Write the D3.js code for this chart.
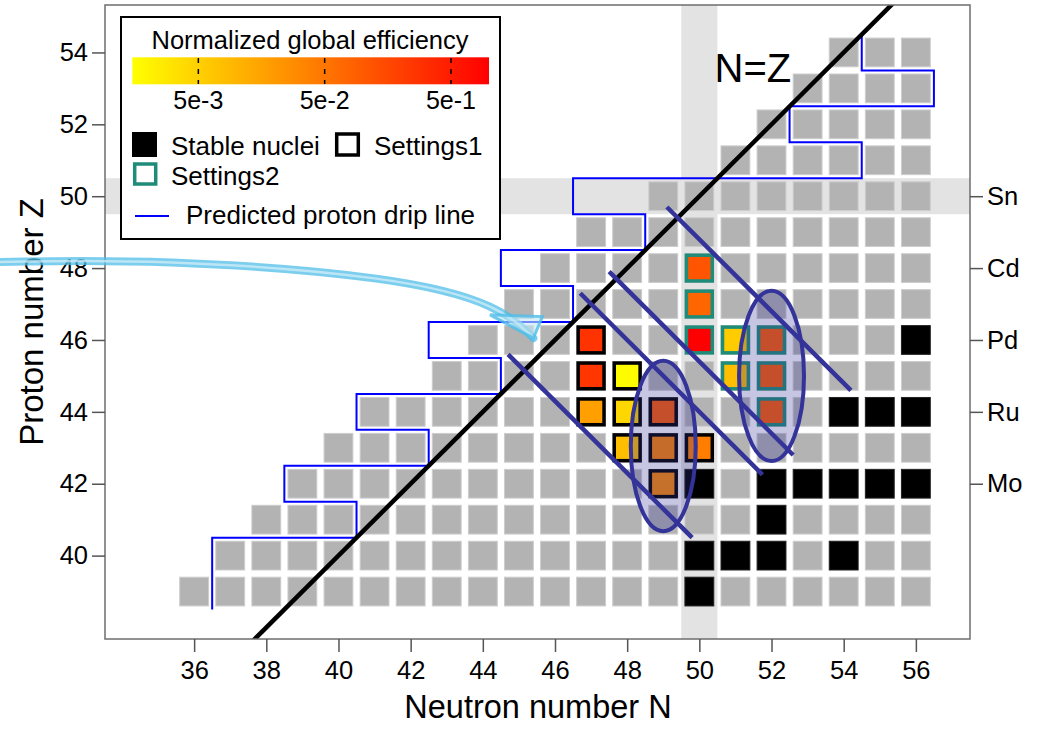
<!DOCTYPE html>
<html>
<head>
<meta charset="utf-8">
<script src="https://d3js.org/d3.v7.min.js"></script>
<style>
  body { margin: 0; background: #fff; }
  text { font-family: "Liberation Sans", Arial, sans-serif; }
</style>
</head>
<body>
<script>
// nuclide rows: proton number Z and the first neutron number drawn (all rows end at N=56)
var rowZ      = [39, 40, 41, 42, 43, 44, 45, 46, 47, 48, 49, 50, 51, 52, 53, 54];
var rowFirstN = [36, 37, 38, 39, 40, 41, 43, 44, 45, 46, 47, 49, 51, 52, 53, 54];
var lastN = 56;

// stable nuclei [N, Z]
var stableNuclei = [[50,39],[50,40],[51,40],[52,40],[54,40],[52,41],
                    [50,42],[52,42],[53,42],[54,42],[55,42],[56,42],
                    [54,44],[55,44],[56,44],[56,46]];

// settings 1 (black frame) and settings 2 (teal frame): N, Z, normalized global efficiency
var s1N   = [47, 47, 48, 47, 48, 49, 48, 49, 50, 49];
var s1Z   = [46, 45, 45, 44, 44, 44, 43, 43, 43, 42];
var s1Eff = [0.27, 0.25, 0.0016, 0.017, 0.0042, 0.1, 0.0076, 0.035, 0.04, 0.03];

var s2N   = [50, 50, 50, 51, 52, 51, 52, 52];
var s2Z   = [48, 47, 46, 46, 46, 45, 45, 44];
var s2Eff = [0.115, 0.074, 1.0, 0.0055, 0.1, 0.0076, 0.1, 0.1];

// predicted proton drip line: boundary N for each Z
var dripZ = [39, 40, 41, 42, 43, 44, 45, 46, 47, 48, 49, 50, 51, 52, 53, 54];
var dripN = [36.5, 36.5, 40.5, 38.5, 42.5, 40.5, 44.5, 42.5, 46.5, 44.5, 48.5, 46.5, 54.5, 52.5, 56.5, 54.5];

// constant A = N + Z cut lines, with their N extent
var cutA    = [90.3, 94.0, 95.4, 98.8];
var cutFrom = [44.7, 46.7, 47.5, 49.1];
var cutTo   = [49.8, 51.75, 52.6, 54.2];

// ellipses around selected isotones
var ellN = [49, 52];
var ellZ = [43.05, 45.0];
var ellRN = 0.9, ellRZ = 2.37;

var xTicks = [36, 38, 40, 42, 44, 46, 48, 50, 52, 54, 56];
var yTicks = [40, 42, 44, 46, 48, 50, 52, 54];
var elemZ = [42, 44, 46, 48, 50];
var elemName = ["Mo", "Ru", "Pd", "Cd", "Sn"];
var cbTicks = [5e-3, 5e-2, 5e-1];
var cbLabels = ["5e-3", "5e-2", "5e-1"];

// annotation arrow (data units)
var arrowPts = [[30.6, 48.17], [35.0, 48.25], [41.7, 47.76], [44.5, 46.95], [45.4, 46.05]];

var width = 1038, height = 735;
var x = d3.scaleLinear().domain([33.53, 57.5]).range([105, 970]);
var y = d3.scaleLinear().domain([37.68, 55.32]).range([639, 5]);

var effColor = d3.scaleSequentialLog(d3.interpolateRgb("#ffff00", "#ff0000")).domain([1.5e-3, 1]);

var svg = d3.select("body").append("svg")
    .attr("width", width)
    .attr("height", height);

svg.append("defs").append("clipPath").attr("id", "plotclip")
  .append("rect").attr("x", 105).attr("y", 5).attr("width", 865).attr("height", 634);

var plot = svg.append("g").attr("clip-path", "url(#plotclip)");

// magic number bands N=50 and Z=50
plot.append("rect")
    .attr("x", x(49.5)).attr("y", 5)
    .attr("width", x(50.5) - x(49.5)).attr("height", 634)
    .attr("fill", "#e3e3e3");
plot.append("rect")
    .attr("x", 105).attr("y", y(50.5))
    .attr("width", 865).attr("height", y(49.5) - y(50.5))
    .attr("fill", "#e3e3e3");

var cw = x(0.8) - x(0), ch = y(0) - y(0.8);

var cells = [];
rowZ.forEach(function(z, i) {
  for (var n = rowFirstN[i]; n <= lastN; n++) cells.push({n: n, z: z});
});
function isStable(d) {
  return stableNuclei.some(function(s) { return s[0] === d.n && s[1] === d.z; });
}

plot.selectAll("rect.cell")
  .data(cells)
  .enter().append("rect")
    .attr("class", "cell")
    .attr("x", function(d) { return x(d.n) - cw / 2; })
    .attr("y", function(d) { return y(d.z) - ch / 2; })
    .attr("width", cw).attr("height", ch)
    .attr("fill", function(d) { return isStable(d) ? "#000" : "#b3b3b3"; })
    .attr("stroke", function(d) { return isStable(d) ? "#222" : "#cdcdcd"; })
    .attr("stroke-width", 1);

function drawSettings(nArr, zArr, effArr, frame) {
  var data = nArr.map(function(n, i) { return {n: n, z: zArr[i], e: effArr[i]}; });
  plot.selectAll(null)
    .data(data)
    .enter().append("rect")
      .attr("x", function(d) { return x(d.n) - cw / 2 + 1.5; })
      .attr("y", function(d) { return y(d.z) - ch / 2 + 1.5; })
      .attr("width", cw - 3).attr("height", ch - 3)
      .attr("fill", function(d) { return effColor(d.e); })
      .attr("stroke", frame)
      .attr("stroke-width", 3.5);
}
drawSettings(s1N, s1Z, s1Eff, "#000");
drawSettings(s2N, s2Z, s2Eff, "#1e8c78");

// drip line
var dripPts = [];
dripZ.forEach(function(z, i) {
  dripPts.push([dripN[i], z - 0.5]);
  dripPts.push([dripN[i], z + 0.5]);
});
plot.append("path")
    .datum(dripPts)
    .attr("d", d3.line().x(function(d) { return x(d[0]); }).y(function(d) { return y(d[1]); }))
    .attr("fill", "none")
    .attr("stroke", "#0000ff")
    .attr("stroke-width", 2);

// N = Z line
plot.append("line")
    .attr("x1", x(36)).attr("y1", y(36))
    .attr("x2", x(57)).attr("y2", y(57))
    .attr("stroke", "#000")
    .attr("stroke-width", 4.5);

// ellipses
plot.selectAll("ellipse")
  .data(ellN)
  .enter().append("ellipse")
    .attr("cx", function(d) { return x(d); })
    .attr("cy", function(d, i) { return y(ellZ[i]); })
    .attr("rx", x(ellRN) - x(0))
    .attr("ry", y(0) - y(ellRZ))
    .attr("fill", "#333399")
    .attr("fill-opacity", 0.28)
    .attr("stroke", "#333399")
    .attr("stroke-width", 4);

// A = const lines
plot.selectAll("line.cut")
  .data(cutA)
  .enter().append("line")
    .attr("class", "cut")
    .attr("x1", function(d, i) { return x(cutFrom[i]); })
    .attr("y1", function(d, i) { return y(d - cutFrom[i]); })
    .attr("x2", function(d, i) { return x(cutTo[i]); })
    .attr("y2", function(d, i) { return y(d - cutTo[i]); })
    .attr("stroke", "#333399")
    .attr("stroke-width", 4.5);

// frame
svg.append("rect")
    .attr("x", 105).attr("y", 5).attr("width", 865).attr("height", 634)
    .attr("fill", "none").attr("stroke", "#6e6e6e").attr("stroke-width", 1.5);

// axes
var xAxis = svg.append("g")
    .attr("transform", "translate(0,639)")
    .call(d3.axisBottom(x).tickValues(xTicks).tickSize(13).tickPadding(9));
var yAxis = svg.append("g")
    .attr("transform", "translate(105,0)")
    .call(d3.axisLeft(y).tickValues(yTicks).tickSize(13).tickPadding(4));
var rAxis = svg.append("g")
    .attr("transform", "translate(970,0)")
    .call(d3.axisRight(y).tickValues(elemZ).tickSize(13).tickPadding(4)
      .tickFormat(function(d) { return elemName[elemZ.indexOf(d)]; }));

[xAxis, yAxis, rAxis].forEach(function(a) {
  a.select(".domain").remove();
  a.selectAll(".tick line").attr("stroke", "#555").attr("stroke-width", 1.5);
  a.selectAll(".tick text").attr("fill", "#000").style("font-size", "25.5px")
    .style("font-family", "'Liberation Sans', Arial, sans-serif");
});

svg.append("text")
    .attr("x", 538).attr("y", 718)
    .attr("text-anchor", "middle")
    .style("font-size", "32.5px")
    .text("Neutron number N");
svg.append("text")
    .attr("transform", "translate(43,322) rotate(-90)")
    .attr("text-anchor", "middle")
    .style("font-size", "33px")
    .text("Proton number Z");

svg.append("text")
    .attr("x", x(50.42)).attr("y", y(53.18))
    .style("font-size", "40px")
    .text("N=Z");

// legend
var lg = svg.append("g");
lg.append("rect")
    .attr("x", 121).attr("y", 17).attr("width", 379).attr("height", 222)
    .attr("fill", "#fff").attr("stroke", "#000").attr("stroke-width", 2);
lg.append("text")
    .attr("x", 310).attr("y", 49)
    .attr("text-anchor", "middle")
    .style("font-size", "25.5px")
    .text("Normalized global efficiency");

var cb = d3.scaleLog().domain([1.5e-3, 1]).range([132.3, 489]);
var grad = svg.select("defs").append("linearGradient")
    .attr("id", "effgrad").attr("x1", "0%").attr("x2", "100%");
d3.range(0, 1.0001, 0.1).forEach(function(t) {
  grad.append("stop").attr("offset", (t * 100) + "%")
      .attr("stop-color", effColor(cb.invert(132.3 + t * (489 - 132.3))));
});
lg.append("rect")
    .attr("x", 132.3).attr("y", 57.3).attr("width", 489 - 132.3).attr("height", 27)
    .attr("fill", "url(#effgrad)");
lg.selectAll("line.cbt")
  .data(cbTicks)
  .enter().append("line")
    .attr("class", "cbt")
    .attr("x1", function(d) { return cb(d); }).attr("x2", function(d) { return cb(d); })
    .attr("y1", 58).attr("y2", 84)
    .attr("stroke", "#000").attr("stroke-width", 1.5)
    .attr("stroke-dasharray", "5,6");
lg.selectAll("text.cbl")
  .data(cbTicks)
  .enter().append("text")
    .attr("class", "cbl")
    .attr("x", function(d) { return cb(d); }).attr("y", 109)
    .attr("text-anchor", "middle")
    .style("font-size", "25px")
    .text(function(d, i) { return cbLabels[i]; });

lg.append("rect").attr("x", 132).attr("y", 132).attr("width", 25).attr("height", 25).attr("fill", "#000");
lg.append("text").attr("x", 171).attr("y", 155).style("font-size", "26px").text("Stable nuclei");
lg.append("rect").attr("x", 336.7).attr("y", 134).attr("width", 21.6).attr("height", 21)
    .attr("fill", "#fff").attr("stroke", "#000").attr("stroke-width", 3.5);
lg.append("text").attr("x", 374).attr("y", 155).style("font-size", "26px").text("Settings1");
lg.append("rect").attr("x", 134.7).attr("y", 164).attr("width", 21).attr("height", 20)
    .attr("fill", "#fff").attr("stroke", "#1e8c78").attr("stroke-width", 3.5);
lg.append("text").attr("x", 171).attr("y", 185).style("font-size", "26px").text("Settings2");
lg.append("line").attr("x1", 135).attr("x2", 169).attr("y1", 216).attr("y2", 216)
    .attr("stroke", "#0000ff").attr("stroke-width", 2);
lg.append("text").attr("x", 186).attr("y", 224).style("font-size", "26px").text("Predicted proton drip line");

// annotation arrow
var arrowLine = d3.line().curve(d3.curveBasis)
    .x(function(d) { return x(d[0]); }).y(function(d) { return y(d[1]); });
svg.append("path").datum(arrowPts)
    .attr("d", arrowLine)
    .attr("fill", "none").attr("stroke", "#4fbde8").attr("stroke-opacity", 0.75)
    .attr("stroke-width", 8).attr("stroke-linecap", "round");
svg.append("path").datum(arrowPts)
    .attr("d", arrowLine)
    .attr("fill", "none").attr("stroke", "#d8f0fa").attr("stroke-opacity", 0.7)
    .attr("stroke-width", 2.5);
var tip = arrowPts[arrowPts.length - 1];
svg.append("path")
    .attr("d", "M" + x(tip[0] - 1.2) + "," + y(tip[1] + 0.65) +
               "L" + x(tip[0] + 0.25) + "," + y(tip[1] + 0.6) +
               "L" + x(tip[0]) + "," + y(tip[1]) + "Z")
    .attr("fill", "#bfe7f6").attr("fill-opacity", 0.6)
    .attr("stroke", "#4fbde8").attr("stroke-opacity", 0.8).attr("stroke-width", 3);
</script>
</body>
</html>
